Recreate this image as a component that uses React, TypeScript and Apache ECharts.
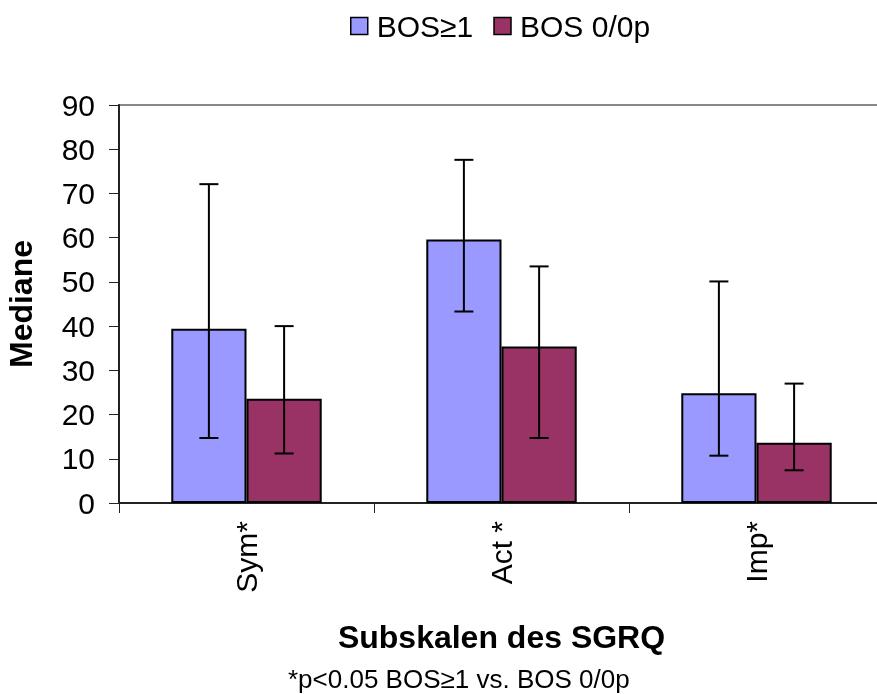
import React, { useEffect, useRef } from "react";
import * as echarts from "echarts";

const categories = ["Sym*", "Act *", "Imp*"];
const seriesNames = ["BOS≥1", "BOS 0/0p"];
const bos1Values = [39.4, 59.6, 24.8];
const bos1Low = [14.7, 43.3, 10.7];
const bos1High = [72.1, 77.6, 50.1];
const bos0Values = [23.6, 35.4, 13.6];
const bos0Low = [11.2, 14.7, 7.4];
const bos0High = [40.0, 53.5, 27.0];
const yTicks = { min: 0, max: 90, interval: 10 };

const FONT = "'Liberation Sans', Arial, sans-serif";
const CAT_GAP = 0.41;

function errorSeries(low: number[], high: number[], side: number) {
  return {
    type: "custom",
    z: 10,
    silent: true,
    data: low.map((l, i) => [i, l, high[i]]),
    encode: { x: 0, y: [1, 2] },
    renderItem: (params: any, api: any) => {
      const band = api.size([1, 0])[0];
      const barW = (band * (1 - CAT_GAP)) / 2;
      const base = api.coord([api.value(0), 0]);
      const cx = base[0] + (side * barW) / 2;
      const yl = api.coord([api.value(0), api.value(1)])[1];
      const yh = api.coord([api.value(0), api.value(2)])[1];
      const cap = 9.5;
      const style = { stroke: "#000", lineWidth: 2 };
      return {
        type: "group",
        children: [
          { type: "line", shape: { x1: cx, y1: yl, x2: cx, y2: yh }, style },
          { type: "line", shape: { x1: cx - cap, y1: yh, x2: cx + cap, y2: yh }, style },
          { type: "line", shape: { x1: cx - cap, y1: yl, x2: cx + cap, y2: yl }, style },
        ],
      };
    },
  };
}

export default function App() {
  const ref = useRef<HTMLDivElement>(null);
  useEffect(() => {
    if (!ref.current) return;
    const chart = echarts.init(ref.current, null, { renderer: "svg" });
    chart.setOption({
      animation: false,
      textStyle: { fontFamily: FONT, color: "#000" },
      legend: {
        data: seriesNames,
        top: 6,
        left: 345,
        icon: "rect",
        itemWidth: 17,
        itemHeight: 17,
        itemGap: 20,
        itemStyle: { borderColor: "#000", borderWidth: 1.5 },
        textStyle: { fontSize: 30, color: "#000", fontFamily: FONT, padding: [0, 0, 0, 4] },
      },
      grid: {
        left: 119,
        top: 105,
        height: 398,
        width: 765,
        outerBoundsMode: "none",
        containLabel: false,
        show: true,
        borderColor: "#888",
        borderWidth: 2,
        backgroundColor: "transparent",
      },
      xAxis: {
        type: "category",
        data: categories,
        name: "Subskalen des SGRQ",
        nameLocation: "middle",
        nameGap: 118,
        nameTextStyle: { fontSize: 32, fontWeight: "bold", color: "#000", fontFamily: FONT },
        axisLine: { lineStyle: { color: "#222", width: 2 } },
        axisTick: { show: true, length: 10, lineStyle: { color: "#222", width: 1 } },
        axisLabel: { rotate: 90, fontSize: 30, color: "#000", margin: 18, fontFamily: FONT },
      },
      yAxis: {
        type: "value",
        min: yTicks.min,
        max: yTicks.max,
        interval: yTicks.interval,
        name: "Mediane",
        nameLocation: "middle",
        nameRotate: 90,
        nameGap: 82,
        nameTextStyle: { fontSize: 32, fontWeight: "bold", color: "#000", fontFamily: FONT },
        splitLine: { show: false },
        axisLine: { show: true, lineStyle: { color: "#222", width: 2 } },
        axisTick: { show: true, length: 10, lineStyle: { color: "#222", width: 1 } },
        axisLabel: { fontSize: 30, color: "#000", margin: 24, fontFamily: FONT },
      },
      series: [
        {
          name: seriesNames[0],
          type: "bar",
          data: bos1Values,
          barGap: "0%",
          barCategoryGap: CAT_GAP * 100 + "%",
          itemStyle: { color: "#9999FF", borderColor: "#000", borderWidth: 2 },
        },
        {
          name: seriesNames[1],
          type: "bar",
          data: bos0Values,
          barGap: "0%",
          barCategoryGap: CAT_GAP * 100 + "%",
          itemStyle: { color: "#993366", borderColor: "#000", borderWidth: 2 },
        },
        errorSeries(bos1Low, bos1High, -1),
        errorSeries(bos0Low, bos0High, 1),
      ],
      graphic: [
        {
          type: "text",
          left: 288,
          top: 666,
          style: { text: "*p<0.05 BOS≥1 vs. BOS 0/0p", fontSize: 26, fill: "#000", fontFamily: FONT },
        },
      ],
    });
    return () => chart.dispose();
  }, []);
  return <div ref={ref} style={{ position: "fixed", left: 0, top: 0, width: 877, height: 694 }} />;
}
